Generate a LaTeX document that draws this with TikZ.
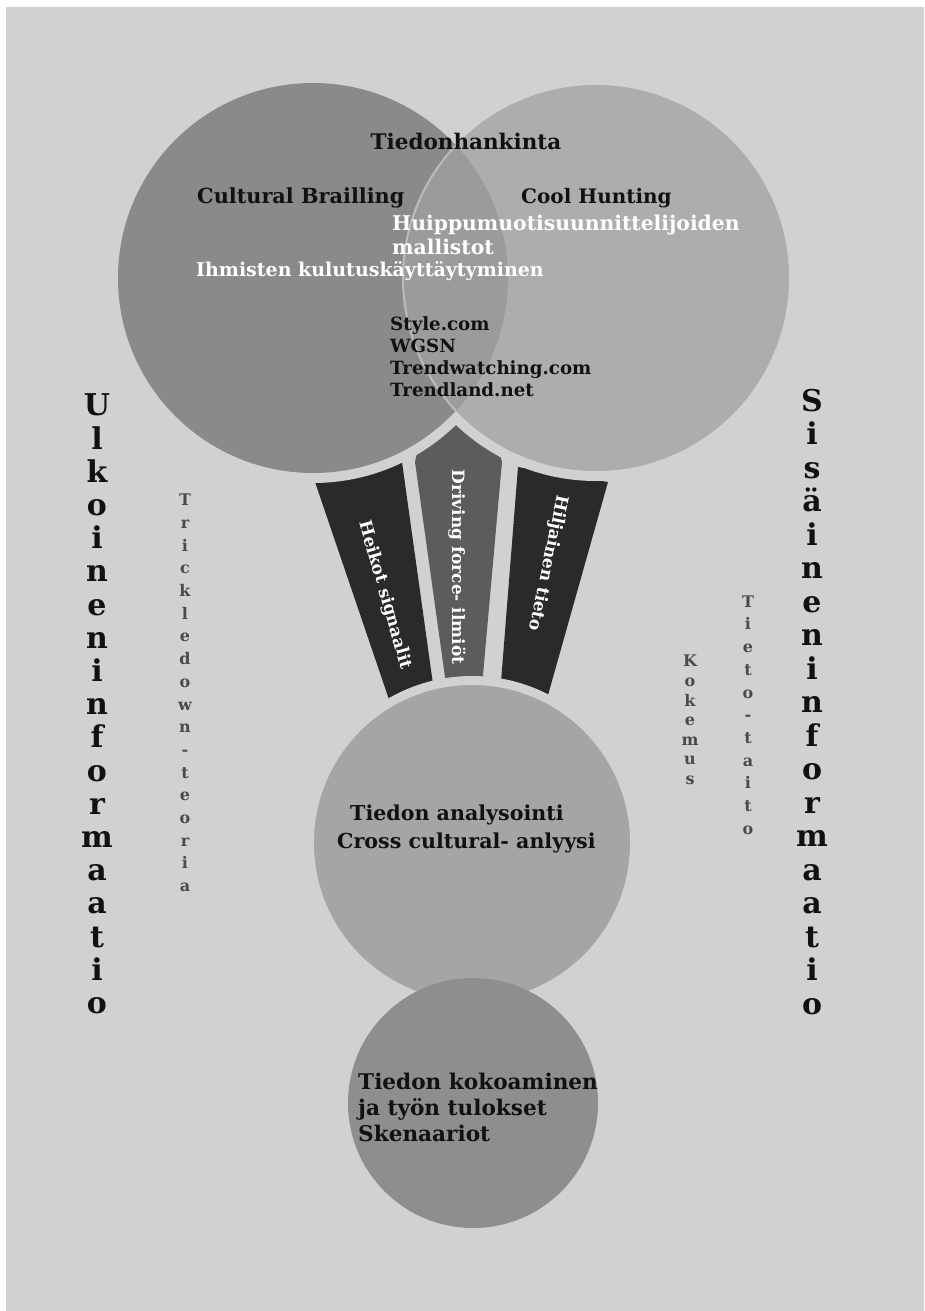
\documentclass[tikz,border=0pt]{standalone}
\usepackage{fontspec}
\setmainfont{DejaVu Serif}
\usepackage{xcolor}
\usepackage{tikz}
\usetikzlibrary{positioning}

\definecolor{bgGray}{HTML}{D1D1D1}
\definecolor{leftGray}{HTML}{8A8A8A}
\definecolor{rightGray}{HTML}{ADADAD}
\definecolor{lensGray}{HTML}{9B9B9B}
\definecolor{midGray}{HTML}{A5A5A5}
\definecolor{lowGray}{HTML}{8E8E8E}
\definecolor{barDark}{HTML}{2A2A2A}
\definecolor{barMid}{HTML}{5C5C5C}
\definecolor{inkDark}{HTML}{111111}
\definecolor{inkSoft}{HTML}{4A4A4A}

\begin{document}
\begin{tikzpicture}[
    x=1pt, y=-1pt,
    ball/.style={circle, fill=#1, inner sep=0pt},
    gap/.style={fill=bgGray},
    txt/.style={font=\bfseries\fontsize{19}{23}\selectfont, text=#1,
                inner sep=0pt, anchor=west, align=left},
    barlbl/.style={font=\bfseries\fontsize{17}{20}\selectfont, text=white,
                   inner sep=0pt},
    stack/.style={font=\bfseries\fontsize{30}{#1}\selectfont, text=inkDark,
                  align=center, inner sep=0pt},
    substack/.style={font=\bfseries\fontsize{16}{#1}\selectfont, text=inkSoft,
                     align=center, inner sep=0pt}
  ]

  \useasboundingbox (0,0) rectangle (924,1311);
  \fill[white] (0,0) rectangle (924,1311);
  \fill[bgGray] (6,7) rectangle (924,1311);

  % the three bars
  \fill[barDark] (315,482) -- (402,462) -- (438,720) -- (396,720) -- cycle;
  \fill[barMid]  (415,462) -- (428,400) -- (486,400) -- (502,462) -- (479,720) -- (451,720) -- cycle;
  \fill[barDark] (518,467) -- (608,482) -- (541,720) -- (498,720) -- cycle;

  % gaps round the circles
  \fill[gap] (313,278) circle[radius=205pt];
  \fill[gap] (596,278) circle[radius=203pt];
  \fill[gap] (472,843) circle[radius=167pt];

  \node[ball=leftGray,  minimum size=390pt] (cb) at (313,278) {};
  \node[ball=rightGray, minimum size=386pt] (ch) at (596,278) {};
  \begin{scope}
    \clip (313,278) circle[radius=195pt];
    \fill[lensGray] (596,278) circle[radius=193pt];
    \draw[line width=2pt, rightGray!60!bgGray] (596,278) circle[radius=193pt];
  \end{scope}
  \node[ball=midGray, minimum size=316pt] (an) at (472,843) {};
  \node[ball=lowGray, minimum size=250pt] (ko) at (473,1103) {};

  % texts in the top circles
  \node[txt=inkDark, anchor=center, font=\bfseries\fontsize{21.5}{25}\selectfont]
    (hank) at (466,141) {Tiedonhankinta};
  \node[txt=inkDark, font=\bfseries\fontsize{20.8}{25}\selectfont] (brail) at (197,198)
    {Cultural Brailling};
  \node[txt=inkDark, font=\bfseries\fontsize{20}{25}\selectfont] (cool) at (521,198)
    {Cool Hunting};
  \node[txt=white, font=\bfseries\fontsize{20.3}{24}\selectfont] (mall) at (392,235)
    {Huippumuotisuunnittelijoiden\\mallistot};
  \node[txt=white] (kulu) at (196,271) {Ihmisten kulutuskäyttäytyminen};
  \node[txt=inkDark, font=\bfseries\fontsize{18.2}{22}\selectfont] (lahde) at (390,357)
    {Style.com\\WGSN\\Trendwatching.com\\Trendland.net};

  % bar labels
  \node[barlbl, rotate=-74]  (heikot) at (385,595) {Heikot signaalit};
  \node[barlbl, rotate=-90]  (drive)  at (457,567) {Driving force- ilmiöt};
  \node[barlbl, rotate=-102] (hiljai) at (548,563) {Hiljainen tieto};

  % lower circles
  \node[txt=inkDark, font=\bfseries\fontsize{20.6}{28}\selectfont] (analy) at (337,829)
    {\hspace*{13pt}Tiedon analysointi\\Cross cultural- anlyysi};
  \node[txt=inkDark, font=\bfseries\fontsize{21.6}{26}\selectfont] (tulos) at (358,1107)
    {Tiedon kokoaminen\\ja työn tulokset\\Skenaariot};

  % side columns
  \node[stack=33.2] (ulko) at (97,704)
    {U\\l\\k\\o\\i\\n\\e\\n\\i\\n\\f\\o\\r\\m\\a\\a\\t\\i\\o};
  \node[stack=33.5] (sisa) at (812,702)
    {S\\i\\s\\ä\\i\\n\\e\\n\\i\\n\\f\\o\\r\\m\\a\\a\\t\\i\\o};
  \node[substack=22.7] (trick) at (185,693)
    {T\\r\\i\\c\\k\\l\\e\\d\\o\\w\\n\\-\\t\\e\\o\\r\\i\\a};
  \node[substack=22.7] (taito) at (748,715)
    {T\\i\\e\\t\\o\\-\\t\\a\\i\\t\\o};
  \node[substack=19.6] (koke) at (690,720)
    {K\\o\\k\\e\\m\\u\\s};

\end{tikzpicture}
\end{document}
